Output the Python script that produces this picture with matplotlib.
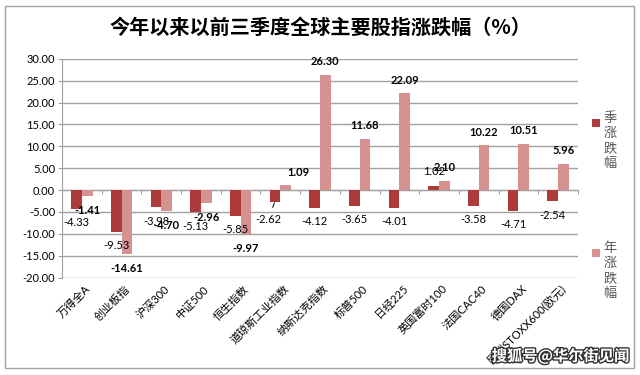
import matplotlib
matplotlib.use('Agg')
import matplotlib.pyplot as plt
from matplotlib.patches import Rectangle
import matplotlib.patheffects as pe
import numpy as np

plt.rcParams['font.family'] = ['Lato', 'Noto Sans CJK SC', 'DejaVu Sans']

# data
categories = ['万得全A', '创业板指', '沪深300', '中证500', '恒生指数', '道琼斯工业指数',
              '纳斯达克指数', '标普500', '日经225', '英国富时100', '法国CAC40',
              '德国DAX', '欧洲STOXX600(欧元)']
season = [-4.33, -9.53, -3.98, -5.13, -5.85, -2.62, -4.12, -3.65, -4.01, 1.02, -3.58, -4.71, -2.54]
year = [-1.41, -14.61, -4.70, -2.96, -9.97, 1.09, 26.30, 11.68, 22.09, 2.10, 10.22, 10.51, 5.96]
y_ticks = [30, 25, 20, 15, 10, 5, 0, -5, -10, -15, -20]

dark = '#AE3B3B'
pink = '#D69291'

fig = plt.figure(figsize=(6.4, 3.75), dpi=100)
ax = fig.add_axes([0.097, 0.26, 0.806, 0.583])

x = np.arange(len(categories))
w = 0.27
ax.bar(x - 0.135, season, width=w, color=dark, zorder=3)
ax.bar(x + 0.135, year, width=w, color=pink, zorder=3)

ax.set_xlim(-0.5, len(categories) - 0.5)
ax.set_ylim(-20, 30)
ax.set_yticks(y_ticks)
ax.set_yticklabels([f'{v:.2f}' for v in y_ticks], fontsize=8)
ax.yaxis.grid(True, color='#A0A0A0', lw=1, zorder=0)
ax.tick_params(axis='y', length=3, color='#A0A0A0', pad=2)

# x axis at zero with tick marks on category boundaries
ax.spines['bottom'].set_position(('data', 0))
ax.spines['bottom'].set_color('#A0A0A0')
ax.spines['left'].set_color('#A0A0A0')
ax.spines['top'].set_visible(False)
ax.spines['right'].set_visible(False)
ax.set_xticks(np.arange(len(categories) + 1) - 0.5)
ax.set_xticklabels([])
ax.tick_params(axis='x', length=3, color='#A0A0A0', direction='out')

# category labels below the plot
for i, c in enumerate(categories):
    ax.annotate(c, (i, -20), xytext=(2, -4), textcoords='offset points',
                rotation=45, ha='right', va='top', fontsize=8,
                rotation_mode='anchor', annotation_clip=False)

# data labels
tweak_season = {5: (-5, -13)}
tweak_year = {5: (9, 9.5)}
for i, v in enumerate(season):
    off = tweak_season.get(i, (0, 10 if v > 0 else -10))
    arrow = dict(arrowstyle='-', color='k', lw=0.7, shrinkA=3, shrinkB=1) if i in tweak_season else None
    ax.annotate(f'{v:.2f}', (x[i] - 0.135, v), xytext=off, textcoords='offset points',
                ha='center', va='center', fontsize=8, arrowprops=arrow, zorder=5)
for i, v in enumerate(year):
    off = tweak_year.get(i, (0, 9.5 if v > 0 else -10.5))
    ax.annotate(f'{v:.2f}', (x[i] + 0.135, v), xytext=off, textcoords='offset points',
                ha='center', va='center', fontsize=8, fontweight='bold', zorder=5)

fig.text(0.5, 0.928, '今年以来以前三季度全球主要股指涨跌幅（%）', ha='center', va='center',
         fontsize=14.5, fontweight='bold', family=['Noto Sans CJK SC'])

# legend with vertical text
for label, color, ymark, ytop in [('季涨跌幅', dark, 0.672, 0.702), ('年涨跌幅', pink, 0.325, 0.355)]:
    fig.patches.append(Rectangle((0.925, ymark - 0.011), 0.012, 0.022, transform=fig.transFigure,
                                 facecolor=color, edgecolor='none'))
    fig.text(0.943, ytop, '\n'.join(label), ha='left', va='top', fontsize=9.5,
             color='#555555', linespacing=1.2, family=['Noto Sans CJK SC'])

# border
fig.patches.append(Rectangle((0.008, 0.018), 0.982, 0.967, transform=fig.transFigure,
                             facecolor='none', edgecolor='#A0A0A0', lw=1))

fig.text(0.983, 0.05, '搜狐号@华尔街见闻', ha='right', va='center', fontsize=11,
         fontweight='bold', color='white', family=['Noto Sans CJK SC'],
         path_effects=[pe.withStroke(linewidth=2, foreground='#333333')])

fig.savefig('out.png', dpi=100)
